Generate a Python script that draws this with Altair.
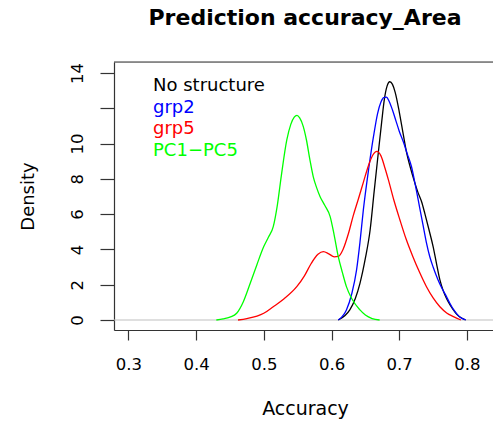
import altair as alt
import pandas as pd

# ---- data ----
series_names = ["No structure", "grp2", "grp5", "PC1\u2212PC5"]
series_colors = ["#000000", "#0000FF", "#FF0000", "#00FF00"]

nostruct_x = [0.610, 0.620, 0.627, 0.635, 0.642, 0.650, 0.657, 0.663, 0.669, 0.674, 0.678, 0.682, 0.686, 0.690, 0.694, 0.700, 0.706, 0.711, 0.716, 0.722, 0.728, 0.733, 0.738, 0.744, 0.750, 0.755, 0.760, 0.765, 0.770, 0.775, 0.780, 0.785, 0.790, 0.798]
nostruct_y = [0.0, 0.25, 0.57, 1.2, 2.08, 3.5, 5.1, 7.3, 9.45, 11.2, 12.5, 13.25, 13.5, 13.35, 12.9, 11.8, 10.5, 9.45, 8.7, 7.9, 7.19, 6.7, 6.0, 5.1, 4.16, 3.2, 2.27, 1.65, 1.2, 0.85, 0.57, 0.32, 0.15, 0.0]

grp2_x = [0.610, 0.616, 0.622, 0.630, 0.637, 0.642, 0.647, 0.655, 0.662, 0.668, 0.673, 0.677, 0.681, 0.685, 0.690, 0.695, 0.700, 0.706, 0.712, 0.718, 0.724, 0.730, 0.735, 0.740, 0.745, 0.750, 0.757, 0.763, 0.768, 0.774, 0.780, 0.785, 0.790, 0.798]
grp2_y = [0.0, 0.2, 0.57, 1.5, 2.84, 4.4, 6.24, 8.6, 10.4, 11.7, 12.35, 12.6, 12.63, 12.4, 11.9, 11.3, 10.7, 10.1, 9.4, 8.7, 7.6, 6.4, 5.4, 4.4, 3.6, 3.0, 2.3, 1.8, 1.45, 1.0, 0.6, 0.35, 0.15, 0.0]

grp5_x = [0.462, 0.475, 0.490, 0.500, 0.514, 0.530, 0.549, 0.560, 0.570, 0.580, 0.588, 0.596, 0.604, 0.610, 0.617, 0.625, 0.632, 0.640, 0.647, 0.655, 0.661, 0.667, 0.673, 0.679, 0.684, 0.692, 0.701, 0.710, 0.720, 0.730, 0.740, 0.750, 0.760, 0.770, 0.780, 0.791]
grp5_y = [0.0, 0.08, 0.22, 0.38, 0.75, 1.2, 1.9, 2.5, 3.2, 3.72, 3.87, 3.75, 3.58, 3.6, 4.0, 4.9, 5.9, 6.9, 7.8, 8.8, 9.35, 9.55, 9.3, 8.6, 7.94, 6.8, 5.67, 4.6, 3.6, 2.7, 1.9, 1.25, 0.75, 0.4, 0.19, 0.0]

pc_x = [0.430, 0.440, 0.450, 0.460, 0.470, 0.480, 0.490, 0.500, 0.507, 0.514, 0.520, 0.526, 0.534, 0.540, 0.545, 0.549, 0.553, 0.558, 0.563, 0.568, 0.573, 0.578, 0.583, 0.590, 0.598, 0.604, 0.610, 0.616, 0.622, 0.630, 0.642, 0.650, 0.660, 0.671]
pc_y = [0.0, 0.06, 0.16, 0.38, 1.05, 2.08, 3.15, 4.16, 4.7, 5.29, 6.5, 8.2, 10.2, 11.1, 11.5, 11.6, 11.45, 11.0, 10.2, 9.1, 8.13, 7.5, 7.0, 6.5, 5.86, 4.8, 3.59, 2.7, 1.89, 1.2, 0.57, 0.28, 0.08, 0.0]

x_ticks = [0.3, 0.4, 0.5, 0.6, 0.7, 0.8]
y_ticks = [0, 2, 4, 6, 8, 10, 12, 14]
title_text = ["Prediction accuracy_Area"]

rows = []
for name, xs, ys in zip(series_names,
                        [nostruct_x, grp2_x, grp5_x, pc_x],
                        [nostruct_y, grp2_y, grp5_y, pc_y]):
    for xv, yv in zip(xs, ys):
        rows.append({"series": name, "Accuracy": xv, "Density": yv})
df = pd.DataFrame(rows)

leg = pd.DataFrame({"series": series_names, "idx": list(range(len(series_names)))})

W, H = 379, 268
FONT = "DejaVu Sans"

color_scale = alt.Scale(domain=series_names, range=series_colors)
x_scale = alt.Scale(domain=[0.2789, 0.8384], nice=False, zero=False)
y_scale = alt.Scale(domain=[-0.567, 14.62], nice=False, zero=False)

y_axis = alt.Axis(values=y_ticks, title="Density", grid=False, tickSize=14,
                  labelAngle=270, labelAlign="center", labelBaseline="alphabetic",
                  labelPadding=18, labelFontSize=16.5, labelFont=FONT, labelColor="#000",
                  labelOverlap=False, labelBound=False, labelFlush=False,
                  labelExpr="datum.value == 12 ? '' : datum.label",
                  titleFont=FONT, titleFontSize=18, titleFontWeight="normal",
                  titleColor="#000", titleAngle=270, titleX=-86, titleY=134,
                  titleBaseline="middle", titleAlign="center",
                  domainColor="#333", tickColor="#333", domainWidth=1.2, tickWidth=1.2)

x_enc = alt.X("Accuracy:Q", scale=x_scale,
              axis=alt.Axis(values=x_ticks, format=".1f", title="Accuracy",
                            grid=False, tickSize=10, labelPadding=16, labelOverlap=False,
                            labelFontSize=16.5, labelFont=FONT, labelColor="#000",
                            titleFont=FONT, titleFontSize=19, titleFontWeight="normal",
                            titleColor="#000", titleX=191, titleY=78,
                            titleBaseline="middle", titleAlign="center",
                            domainColor="#333", tickColor="#333", domainWidth=1.2, tickWidth=1.2))
y_enc = alt.Y("Density:Q", scale=y_scale, axis=y_axis)

zero_line = alt.Chart(pd.DataFrame({"Density": [0.0]})).mark_rule(
    color="#c0c0c0", strokeWidth=1.2
).encode(y=y_enc)

lines = alt.Chart(df).mark_line(strokeWidth=1.3, clip=True, interpolate="monotone").encode(
    x=x_enc,
    y=y_enc,
    color=alt.Color("series:N", scale=color_scale, legend=None),
    detail="series:N",
)

top_border = alt.Chart(pd.DataFrame({"z": [0]})).mark_rule(color="#333", strokeWidth=1.2).encode(
    x=alt.value(0), x2=alt.value(W), y=alt.value(0)
)

legend_text = alt.Chart(leg).transform_calculate(
    ypos="24 + datum.idx * 21.7"
).mark_text(align="left", baseline="middle", font=FONT, fontSize=18).encode(
    x=alt.value(39),
    y=alt.Y("ypos:Q", scale=None),
    text="series:N",
    color=alt.Color("series:N", scale=color_scale, legend=None),
)

title_mark = alt.Chart(pd.DataFrame({"t": title_text})).mark_text(
    align="center", baseline="alphabetic", font=FONT, fontSize=22,
    fontWeight="bold", color="#000"
).encode(
    x=alt.value(191), y=alt.value(-37), text="t:N"
)

chart = alt.layer(zero_line, lines, top_border, legend_text, title_mark).properties(
    width=W, height=H,
    autosize=alt.AutoSizeParams(type="none"),
    padding={"left": 114, "top": 62, "right": 0, "bottom": 92},
).configure_view(stroke=None).configure_axis(labelOverlap=False).configure(background="white")

chart.save("out.html", embed_options={"renderer": "svg", "actions": False})
